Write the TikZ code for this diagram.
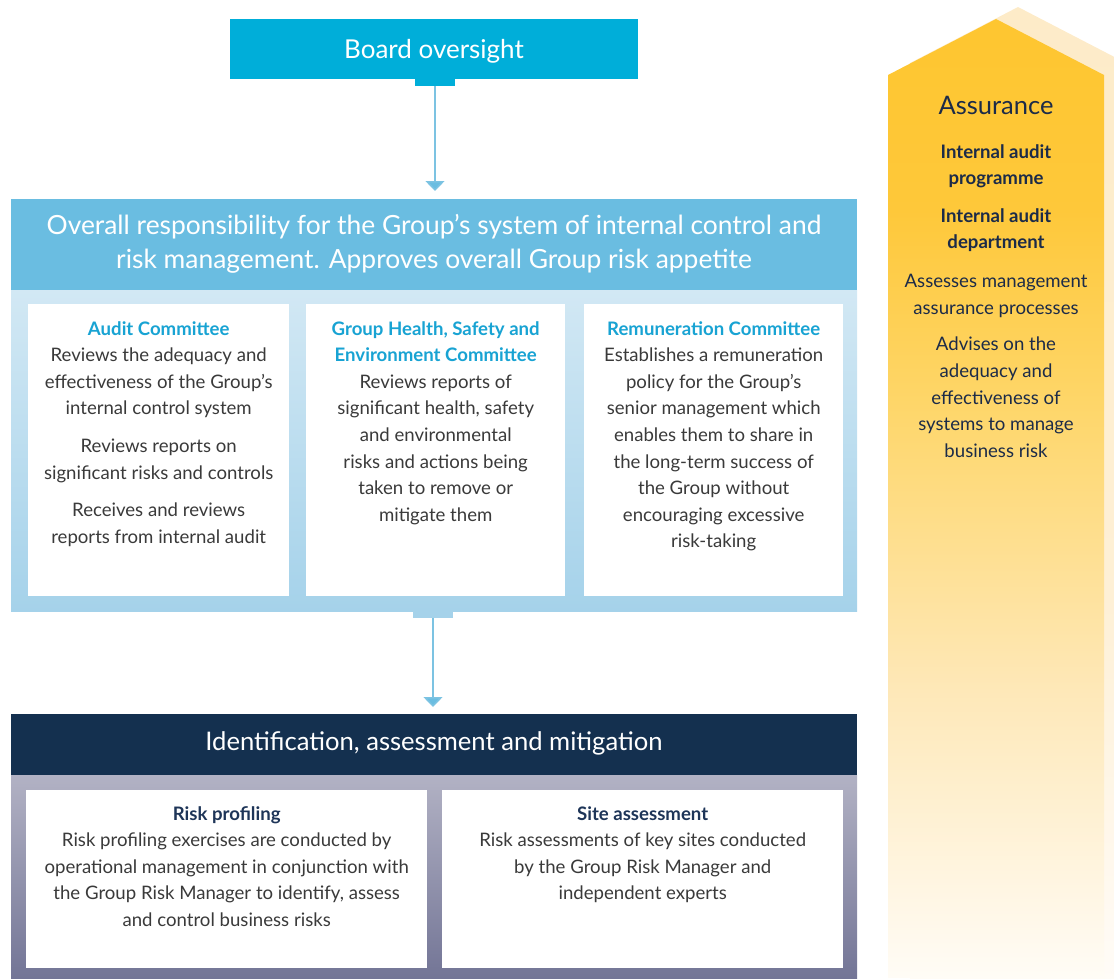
\documentclass[tikz,border=0pt]{standalone}
\usepackage{fontspec}
\setmainfont{Lato}
\usetikzlibrary{arrows.meta}
\definecolor{boardcol}{HTML}{00AED9}
\definecolor{hdrcol}{HTML}{6ABDE1}
\definecolor{panTop}{HTML}{D2E8F4}
\definecolor{panBot}{HTML}{A5D2EA}
\definecolor{conncol}{HTML}{7CC3E2}
\definecolor{navy}{HTML}{14304F}
\definecolor{grTop}{HTML}{B2B2C4}
\definecolor{grBot}{HTML}{737596}
\definecolor{bodytext}{HTML}{3A3A3A}
\definecolor{cyantitle}{HTML}{18A3D3}
\definecolor{navytitle}{HTML}{1E3558}
\definecolor{assurtext}{HTML}{1C2B48}
\definecolor{af0}{HTML}{FFFCF6}
\definecolor{af1}{HTML}{FEE8B8}
\definecolor{af2}{HTML}{FED669}
\definecolor{af3}{HTML}{FEC83A}
\definecolor{af4}{HTML}{FEC630}
\definecolor{ab0}{HTML}{FFFCF8}
\definecolor{ab1}{HTML}{FEF0D6}
\definecolor{ab2}{HTML}{FDEBC8}
\pgfdeclareverticalshading{assurfront}{100bp}{color(0bp)=(af0); color(25bp)=(af0); color(40bp)=(af1); color(55bp)=(af2); color(65bp)=(af3); color(75bp)=(af4); color(100bp)=(af4)}
\pgfdeclareverticalshading{assurback}{100bp}{color(0bp)=(ab0); color(25bp)=(ab0); color(45bp)=(ab1); color(75bp)=(ab2); color(100bp)=(ab2)}
\tikzset{
  bodyfont/.style={font=\fontsize{18.6}{26.6}\selectfont, text=bodytext, align=center, inner sep=0pt},
  hdrtext/.style={font=\fontsize{26.4}{34}\selectfont, text=white, align=center},
  whitebox/.style={fill=white, draw=none, inner sep=0pt, anchor=north west},
  tabbox/.style={minimum width=40pt, minimum height=7pt, inner sep=0pt, anchor=north},
  conn/.style={draw=conncol, line width=1.5pt, -{Triangle[width=19pt,length=10pt,fill=hdrcol]}},
  assurfont/.style={font=\fontsize{18.6}{26.6}\selectfont, text=assurtext, align=center, inner sep=0pt, anchor=north}
}
\begin{document}
\begin{tikzpicture}[x=1pt,y=-1pt]
\useasboundingbox (0,0) rectangle (1114,978);
\clip (0,0) rectangle (1114,978);
% Assurance arrow
\shade[shading=assurback] (910,63) -- (1018,7) -- (1126,63) -- (1126,990) -- (910,990) -- cycle;
\shade[shading=assurfront] (888,75) -- (996,19) -- (1104,75) -- (1104,978) -- (888,978) -- cycle;
\node[font=\fontsize{25.5}{30}\selectfont, text=assurtext, inner sep=0pt] (assur) at (996,105.5) {Assurance};
\node[assurfont, font=\bfseries\fontsize{18.6}{26.6}\selectfont] (ia1) at (996,144) {Internal audit\\programme};
\node[assurfont, font=\bfseries\fontsize{18.6}{26.6}\selectfont] (ia2) at (996,208) {Internal audit\\department};
\node[assurfont] (ia3) at (996,274) {Assesses management\\assurance processes};
\node[assurfont] (ia4) at (996,337) {Advises on the\\adequacy and\\effectiveness of\\systems to manage\\business risk};

% Board
\node[fill=boardcol, minimum width=408pt, minimum height=60pt, inner sep=0pt] (board) at (434,49) {};
\node[font=\fontsize{26}{30}\selectfont, text=white, inner sep=0pt] (boardtext) at (434,51) {Board oversight};
\node[fill=boardcol, tabbox] (tab1) at (435,78.5) {};

% Top panel
\node[fill=hdrcol, minimum width=846pt, minimum height=91pt, inner sep=0pt, anchor=north west] (resp) at (11,199) {};
\node[hdrtext, inner sep=0pt] (resptext) at (434,244) {Overall responsibility for the Group’s system of internal control and\\risk management. Approves overall Group risk appetite};
\shade[top color=panTop, bottom color=panBot] (11,290) rectangle (857,611);
\node[fill=panBot, tabbox] (tab2) at (433,610.5) {};
\draw[conn] (tab1.south) -- ([yshift=8pt]resp.north -| tab1.south);

\node[whitebox, minimum width=261pt, minimum height=292pt] (audit) at (28,304) {};
\node[whitebox, minimum width=259pt, minimum height=292pt] (hse) at (306,304) {};
\node[whitebox, minimum width=259pt, minimum height=292pt] (remun) at (584,304) {};

\node[bodyfont, anchor=north] (audittext) at (audit.north |- 0,321) {{\bfseries\color{cyantitle}Audit Committee}\\Reviews the adequacy and\\effectiveness of the Group’s\\internal control system\\[11pt]Reviews reports on\\significant risks and controls\\[11pt]Receives and reviews\\reports from internal audit};
\node[bodyfont, anchor=north] (hsetext) at (hse.north |- 0,321) {{\bfseries\color{cyantitle}Group Health, Safety and}\\{\bfseries\color{cyantitle}Environment Committee}\\Reviews reports of\\significant health, safety\\and environmental\\risks and actions being\\taken to remove or\\mitigate them};
\node[bodyfont, anchor=north] (remuntext) at (remun.north |- 0,321) {{\bfseries\color{cyantitle}Remuneration Committee}\\Establishes a remuneration\\policy for the Group’s\\senior management which\\enables them to share in\\the long-term success of\\the Group without\\encouraging excessive\\risk-taking};

% Bottom panel
\node[fill=navy, minimum width=846pt, minimum height=61pt, inner sep=0pt, anchor=north west] (ident) at (11,714) {};
\node[font=\fontsize{25.6}{30}\selectfont, text=white, inner sep=0pt] (identtext) at (434,743) {Identification, assessment and mitigation};
\draw[conn] (tab2.south) -- ([yshift=7pt]ident.north -| tab2.south);
\shade[top color=grTop, bottom color=grBot] (11,775) rectangle (857,978);
\node[whitebox, minimum width=401pt, minimum height=178pt] (risk) at (26,790) {};
\node[whitebox, minimum width=401pt, minimum height=178pt] (site) at (442,790) {};
\node[bodyfont, anchor=north] (risktext) at (risk.north |- 0,806) {{\bfseries\color{navytitle}Risk profiling}\\Risk profiling exercises are conducted by\\operational management in conjunction with\\the Group Risk Manager to identify, assess\\and control business risks};
\node[bodyfont, anchor=north] (sitetext) at (site.north |- 0,806) {{\bfseries\color{navytitle}Site assessment}\\Risk assessments of key sites conducted\\by the Group Risk Manager and\\independent experts};
\end{tikzpicture}
\end{document}
